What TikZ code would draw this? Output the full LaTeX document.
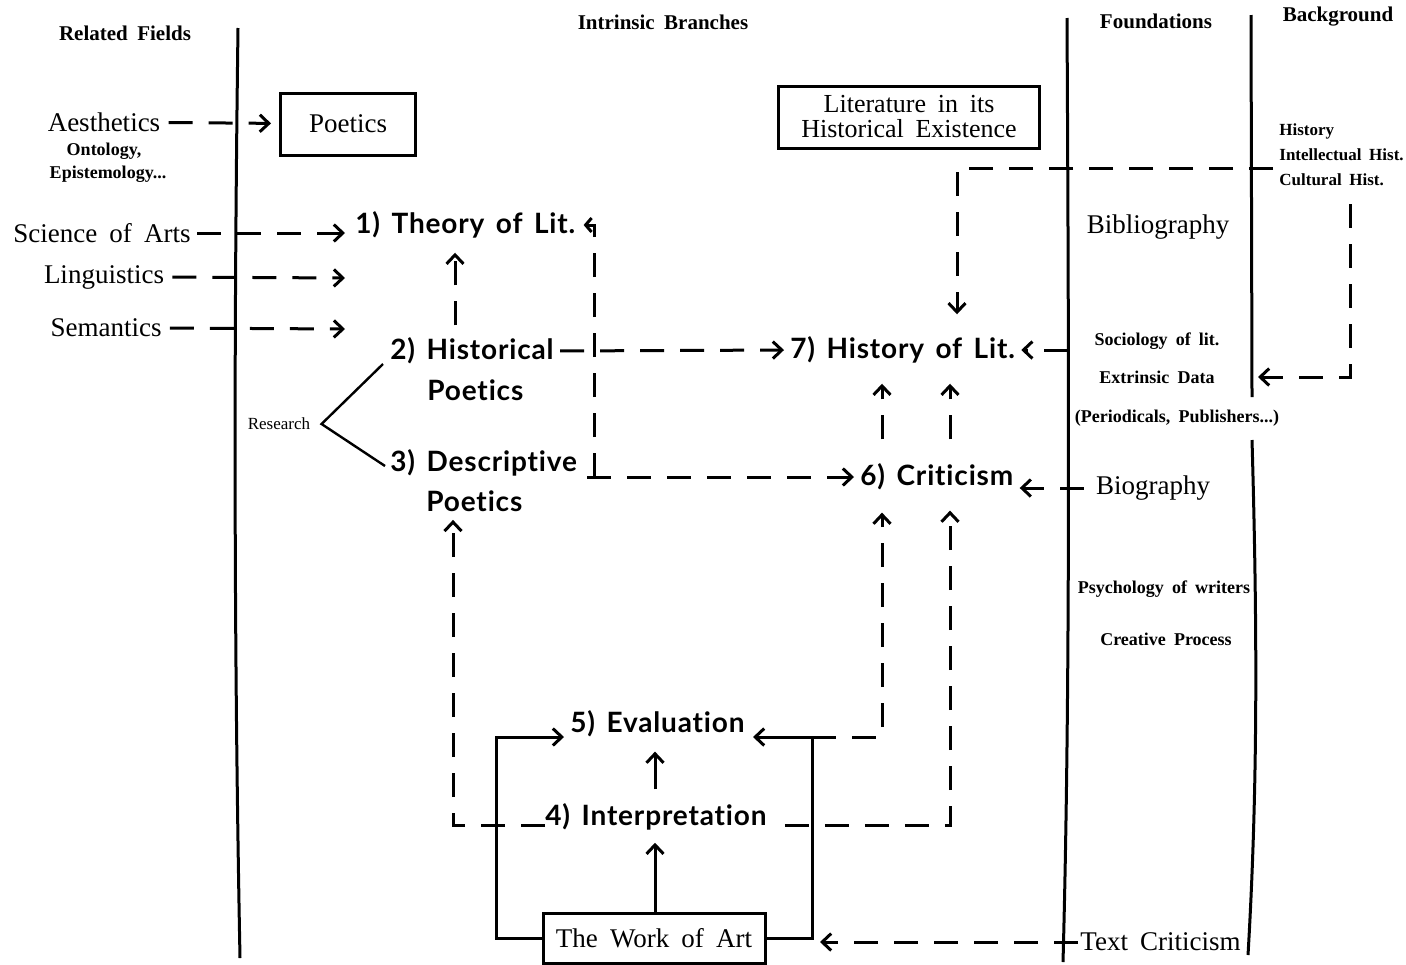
\documentclass[tikz,border=0pt]{standalone}
\usepackage{fontspec}
\setmainfont{Liberation Serif}[WordSpace=1.8]
\newfontfamily\gsans{Lato}[WordSpace=1.5, LetterSpace=3, Ligatures=NoCommon, RawFeature={-liga;-dlig}]
\usetikzlibrary{arrows.meta}
\begin{document}
\begin{tikzpicture}[x=0.5pt,y=-0.5pt,
  colline/.style={line width=1.5pt},
  tip/.style={-{Straight Barb[length=4.5pt,width=8.5pt]}},
  dsh/.style={line width=1.5pt, dash pattern=on 12pt off 8pt, tip},
  sol/.style={line width=1.5pt, tip},
  bigserif/.style={font=\fontsize{13.5}{15}\selectfont, inner sep=0pt},
  hdr/.style={font=\fontsize{10.5}{12}\selectfont\bfseries, inner sep=0pt},
  small/.style={font=\fontsize{9}{10}\selectfont\bfseries, inner sep=0pt},
  bgtext/.style={font=\fontsize{8.5}{10}\selectfont\bfseries, inner sep=0pt, anchor=west},
  branch/.style={font=\gsans\bfseries\fontsize{14}{15}\selectfont, inner sep=0pt, anchor=west},
  boxed/.style={draw, line width=1.5pt}]
\useasboundingbox (0,0) rectangle (1406,964);

% column rules
\draw[colline] (238,28) .. controls (233,400) and (235,700) .. (240,958);
\draw[colline] (1067,18) .. controls (1069,400) and (1070,700) .. (1063,962);
\draw[colline] (1251,15) -- (1252,397);
\draw[colline] (1252,440) .. controls (1258,650) and (1257,800) .. (1248,955);

% headers
\node[hdr] (hRel) at (125,33) {Related Fields};
\node[hdr] (hInt) at (663,22) {Intrinsic Branches};
\node[hdr] (hFound) at (1156,21) {Foundations};
\node[hdr] (hBack) at (1338,17) {Background};

% related fields
\node[bigserif] (aes) at (104,122) {Aesthetics};
\node[small] (onto) at (104,151) {Ontology,};
\node[small] (epis) at (108,174) {Epistemology...};
\node[bigserif, boxed, minimum width=67.5pt, minimum height=31pt] (poet) at (348,124) {Poetics};
\node[bigserif] (sci) at (102,233) {Science of Arts};
\node[bigserif] (ling) at (104,277) {Linguistics};
\node[bigserif] (sem) at (106,328) {Semantics};
\coordinate (lingE) at (345,278);
\coordinate (semE) at (345,329);

% intrinsic branches
\node[branch] (theory) at (355,225) {1) Theory of Lit.};
\node[branch] (hist) at (390,351) {2) Historical};
\node[branch] (histP) at (427,390) {Poetics};
\node[branch] (desc) at (390,463) {3) Descriptive};
\node[branch] (descP) at (426,501) {Poetics};
\node[font=\fontsize{8.5}{10}\selectfont, inner sep=0pt] (res) at (279,424) {Research};
\node[boxed, align=center, inner sep=0pt, minimum width=130.5pt, minimum height=31pt,
  font=\fontsize{13}{12.5}\selectfont] (litbox) at (909,117) {Literature in its\\Historical Existence};
\node[branch] (hlit) at (790,350) {7) History of Lit.};
\node[branch] (crit) at (860,477) {6) Criticism};
\node[branch] (eval) at (570,724) {5) Evaluation};
\node[branch] (interp) at (545,817) {4) Interpretation};
\node[bigserif, boxed, minimum width=111pt, minimum height=25pt] (work) at (654,938) {The Work of Art};

% foundations
\node[bigserif] (bib) at (1158,227) {Bibliography};
\node[small] (soc) at (1157,341) {Sociology of lit.};
\node[small] (extr) at (1157,377) {Extrinsic Data};
\node[small] (peri) at (1177,418) {(Periodicals, Publishers...)};
\node[bigserif] (bio) at (1153,488) {Biography};
\node[small] (psy) at (1164,589) {Psychology of writers};
\node[small] (crea) at (1166,639) {Creative Process};
\node[bigserif, anchor=west] (textc) at (1080,942) {Text Criticism};

% background
\node[bgtext] (bh) at (1279,131) {History};
\node[bgtext] (bi) at (1279,155) {Intellectual Hist.};
\node[bgtext] (bc) at (1279,180) {Cultural Hist.};

% helper coordinates
\coordinate (vx) at (594,477);
\coordinate (cL) at (496,737);
\coordinate (cR) at (812,737);

% connectors: related fields
\draw[dsh, shorten <=4pt, shorten >=4pt] (aes) -- (poet);
\draw[dsh, shorten <=3pt, shorten >=5pt] (sci.east) -- (sci.east -| theory.west);
\draw[dsh, shorten <=4pt] (ling.east) -- (lingE);
\draw[dsh, shorten <=4pt] (sem.east) -- (semE);

% research bracket
\draw[line width=1.2pt] ([xshift=-3.5pt,yshift=-6.5pt]hist.west) -- ([xshift=5.5pt]res.east) -- ([xshift=-2.5pt,yshift=-1.5pt]desc.west);

% intrinsic
\draw[dsh, shorten <=6pt, shorten >=7pt] (hist.north -| 455,0) -- (theory.south -| 455,0);
\draw[dsh, shorten <=3pt, shorten >=3pt] (hist.east) -- (hlit.west);
\draw[dsh, shorten <=5pt, shorten >=3pt] (desc.east |- crit.west) -- (crit.west);
\draw[dsh, -{Straight Barb[length=3pt,width=7pt]}, shorten >=4pt] (vx) |- (theory.east);

% background to history of lit.
\draw[dsh, shorten <=3pt, shorten >=11pt] (bi.west |- 0,168) -| (hlit.north -| 957,0);
\draw[dsh, shorten <=9pt] (bc.south -| 1350,0) |- (extr.east -| 1258,0);

% foundations into branches
\draw[dsh, shorten <=13pt, shorten >=3pt] (soc.west |- hlit.east) -- (hlit.east);
\draw[dsh, shorten <=6pt, shorten >=3pt] (bio.west) -- (bio.west -| crit.east);

% criticism -> history
\draw[dsh, shorten <=12pt, shorten >=10pt] (crit.north -| 882,0) -- (hlit.south -| 882,0);
\draw[dsh, shorten <=12pt, shorten >=10pt] (crit.north -| 950,0) -- (hlit.south -| 950,0);

% evaluation / interpretation -> criticism
\draw[dsh, shorten >=11pt] (cR) -| (crit.south -| 882,0);
\draw[dsh, shorten <=9pt, shorten >=10pt] (interp.east |- 0,825) -| (crit.south -| 950,0);
\draw[dsh, shorten >=4pt] (interp.west |- 0,825) -| (descP.south -| 453,0);

% solid arrows
\draw[sol, shorten <=7pt, shorten >=7pt] (interp.north -| 655,0) -- (eval.south -| 655,0);
\draw[sol, shorten >=6pt] (work.north -| 655,0) -- (interp.south -| 655,0);
\draw[sol, shorten >=3pt] (work.west) -| (cL) -- (cL -| eval.west);
\draw[sol, shorten >=4pt] (work.east) -| (cR) -- (cR -| eval.east);

% text criticism
\draw[dsh, shorten <=1pt, shorten >=4pt] (textc.west) -- (textc.west -| cR);
\end{tikzpicture}
\end{document}
